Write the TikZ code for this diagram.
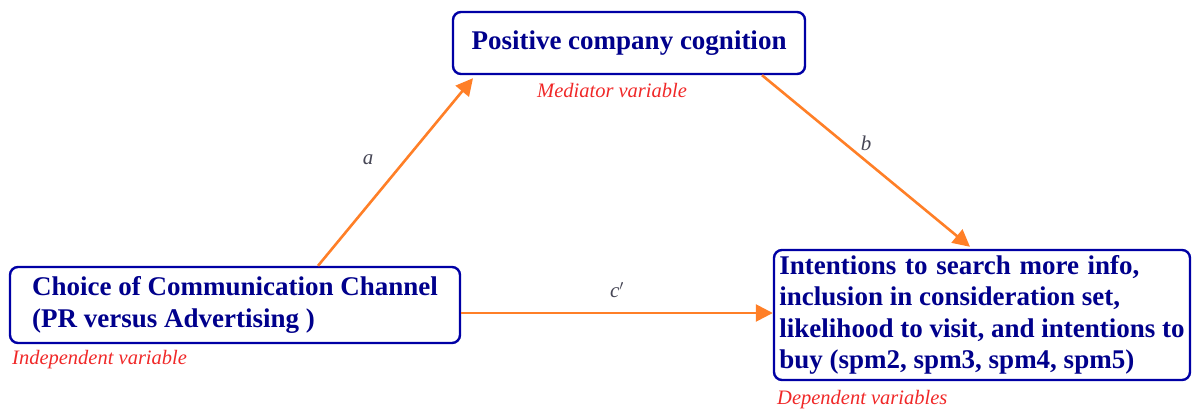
\documentclass[tikz,border=0pt]{standalone}
\usepackage{fontspec}
\setmainfont{Liberation Serif}
\usetikzlibrary{arrows.meta}
\definecolor{boxblue}{RGB}{0,0,165}
\definecolor{textblue}{RGB}{0,0,140}
\definecolor{arrorange}{RGB}{255,127,39}
\definecolor{labred}{RGB}{240,40,40}
\definecolor{pathgray}{RGB}{70,70,85}
\begin{document}
\begin{tikzpicture}[x=1pt,y=-1pt,
  varbox/.style={draw=boxblue, line width=2.4pt, rounded corners=8pt, fill=white,
    text=textblue, font=\fontsize{27}{31.5}\selectfont\bfseries, align=left, inner sep=0pt},
  rolelab/.style={text=labred, font=\fontsize{20.5}{24}\selectfont\itshape, inner sep=0pt},
  pathlab/.style={text=pathgray, font=\fontsize{21}{24}\selectfont\itshape, inner sep=0pt},
  arr/.style={draw=arrorange, line width=2.6pt, -{Triangle[length=17pt,width=17pt]}}]
\useasboundingbox (0,0) rectangle (1192,412);
\node[varbox, minimum width=352pt, minimum height=62pt, align=center] (top) at (629,43) {Positive company cognition};
\node[varbox, minimum width=450pt, minimum height=76pt] (left) at (235,305) {Choice of Communication Channel\\(PR versus Advertising )};
\node[varbox, minimum width=416pt, minimum height=130pt] (right) at (982,315) {\makebox[360pt][s]{Intentions to search more info,}\\inclusion in consideration set,\\likelihood to visit, and intentions to\\buy (spm2, spm3, spm4, spm5)};
\node[rolelab, anchor=base west] (med) at (537,97) {Mediator variable};
\node[rolelab, anchor=base west] (ind) at (12,364) {Independent variable};
\node[rolelab, anchor=base west] (dep) at (777,404) {Dependent variables};
\coordinate (cy) at (0,313);
\draw[arr] ([xshift=83pt]left.north) -- ([xshift=-156pt,yshift=-3pt]top.south);
\draw[arr] ([xshift=133pt]top.south) -- ([xshift=-12pt,yshift=2pt]right.north);
\draw[arr] (left.east |- cy) -- (right.west |- cy);
\node[pathlab] (la) at (368,160) {a};
\node[pathlab] (lb) at (866,143) {b};
\node[pathlab] (lc) at (617,290) {c$'$};
\end{tikzpicture}
\end{document}
